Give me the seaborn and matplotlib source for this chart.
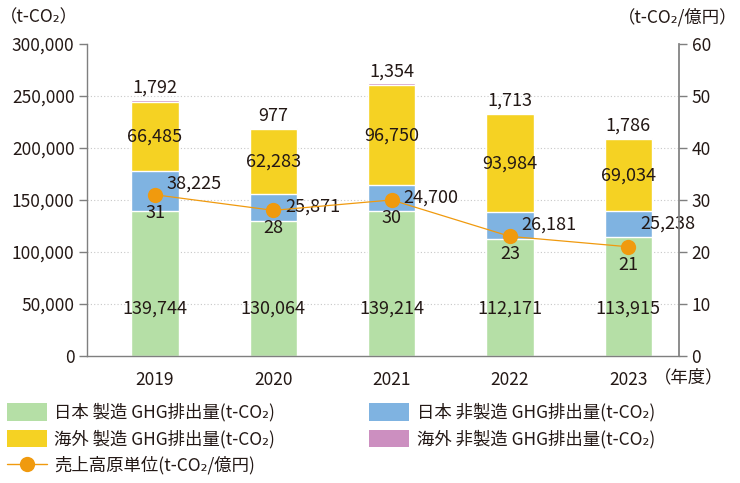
import numpy as np
import pandas as pd
import matplotlib
matplotlib.use("Agg")
import matplotlib.pyplot as plt
import matplotlib.ticker as mticker
from matplotlib.patches import Patch
from matplotlib.lines import Line2D
import seaborn as sns

# ---------------- DATA ----------------
years = ["2019", "2020", "2021", "2022", "2023"]
jp_mfg = [139744, 130064, 139214, 112171, 113915]
jp_non = [38225, 25871, 24700, 26181, 25238]
os_mfg = [66485, 62283, 96750, 93984, 69034]
os_non = [1792, 977, 1354, 1713, 1786]
intensity = [31, 28, 30, 23, 21]

legend_labels = [
    "日本 製造 GHG排出量(t-CO₂)",
    "日本 非製造 GHG排出量(t-CO₂)",
    "海外 製造 GHG排出量(t-CO₂)",
    "海外 非製造 GHG排出量(t-CO₂)",
    "売上高原単位(t-CO₂/億円)",
]

C_GREEN = "#b5dfa6"
C_BLUE = "#7fb3e1"
C_YELLOW = "#f5d223"
C_PINK = "#cc8fc0"
C_ORANGE = "#f09a0e"
TXT = "#231815"
SPINE = "#7f7f7f"

sns.set_theme(style="white")
plt.rcParams["font.family"] = ["Noto Sans CJK JP", "DejaVu Sans"]

df = pd.DataFrame({
    "year": years,
    "jp_mfg": jp_mfg,
    "jp_non": jp_non,
    "os_mfg": os_mfg,
    "os_non": os_non,
})
df["l2"] = df["jp_mfg"] + df["jp_non"]
df["l3"] = df["l2"] + df["os_mfg"]
df["l4"] = df["l3"] + df["os_non"]

fig = plt.figure(figsize=(7.4, 4.83), dpi=100)
ax = fig.add_axes([0.1176, 0.263, 0.8, 0.646])

# stacked bars: draw cumulative totals from top layer down
for col, color in [("l4", C_PINK), ("l3", C_YELLOW), ("l2", C_BLUE), ("jp_mfg", C_GREEN)]:
    sns.barplot(data=df, x="year", y=col, color=color, width=0.4,
                saturation=1, ax=ax, zorder=2)

ax.set_xlim(-0.575, 4.43)
ax.set_ylim(0, 300000)
ax.yaxis.set_major_locator(mticker.MultipleLocator(50000))
ax.yaxis.set_major_formatter(mticker.FuncFormatter(lambda v, p: f"{int(v):,}"))
ax.set_xlabel("")
ax.set_ylabel("")
for yv in range(50000, 300000, 50000):
    ax.axhline(yv, color="#c8c8c8", lw=0.8, ls=(0, (1, 2)), zorder=1)

for s in ["top", "right"]:
    ax.spines[s].set_visible(False)
for s in ["left", "bottom"]:
    ax.spines[s].set_color(SPINE)
    ax.spines[s].set_linewidth(1)
ax.tick_params(axis="y", left=True, length=6, width=1, color=SPINE,
               labelsize=12.5, labelcolor=TXT, pad=3)
ax.tick_params(axis="x", bottom=False, labelsize=12.5, labelcolor=TXT, pad=5)

# value labels
lab = dict(fontsize=13, color=TXT, zorder=5)
for i in range(len(years)):
    ax.text(i, 46000, f"{jp_mfg[i]:,}", ha="center", va="center", **lab)
    ax.text(i + 0.1, df["l2"][i] - 12000, f"{jp_non[i]:,}", ha="left",
            va="center", **lab)
    ax.text(i, (df["l2"][i] + df["l3"][i]) / 2, f"{os_mfg[i]:,}",
            ha="center", va="center", **lab)
    ax.annotate(f"{os_non[i]:,}", (i, df["l4"][i]), xytext=(0, 2),
                textcoords="offset points", ha="center", va="bottom", **lab)

# intensity line on right axis
ax2 = ax.twinx()
sns.lineplot(x=np.arange(len(years)), y=intensity, ax=ax2, color=C_ORANGE,
             lw=0.9, marker="o", markersize=11, markeredgewidth=0, zorder=4)
ax2.set_ylim(0, 60)
ax2.yaxis.set_major_locator(mticker.MultipleLocator(10))
for s in ["top", "left", "bottom"]:
    ax2.spines[s].set_visible(False)
ax2.spines["right"].set_color(SPINE)
ax2.tick_params(axis="y", right=True, length=6, width=1, color=SPINE,
                labelsize=12.5, labelcolor=TXT, pad=3)
for i, v in enumerate(intensity):
    ax2.annotate(str(v), (i, v), xytext=(0, -13), textcoords="offset points",
                 ha="center", va="center", **lab)

# unit labels
fig.text(0.0, 0.965, "（t-CO₂）", ha="left", va="center", fontsize=12.5, color=TXT)
fig.text(0.997, 0.965, "（t-CO₂/億円）", ha="right", va="center", fontsize=12.5, color=TXT)
fig.text(0.883, 0.219, "（年度）", ha="left", va="center", fontsize=12.5, color=TXT)

# legend
handles = [
    Patch(facecolor=C_GREEN, edgecolor="none"),
    Patch(facecolor=C_YELLOW, edgecolor="none"),
    Line2D([0], [0], color=C_ORANGE, lw=1, marker="o", markersize=11, markeredgewidth=0),
    Patch(facecolor=C_BLUE, edgecolor="none"),
    Patch(facecolor=C_PINK, edgecolor="none"),
]
labels = [legend_labels[0], legend_labels[2], legend_labels[4],
          legend_labels[1], legend_labels[3]]
fig.legend(handles, labels, loc="upper left", bbox_to_anchor=(-0.012, 0.198),
           ncol=2, frameon=False, fontsize=12.5, handlelength=2.3,
           handleheight=1.2, handletextpad=0.45, columnspacing=5.4,
           labelspacing=0.45, labelcolor=TXT)

fig.savefig("out.png", dpi=100)
